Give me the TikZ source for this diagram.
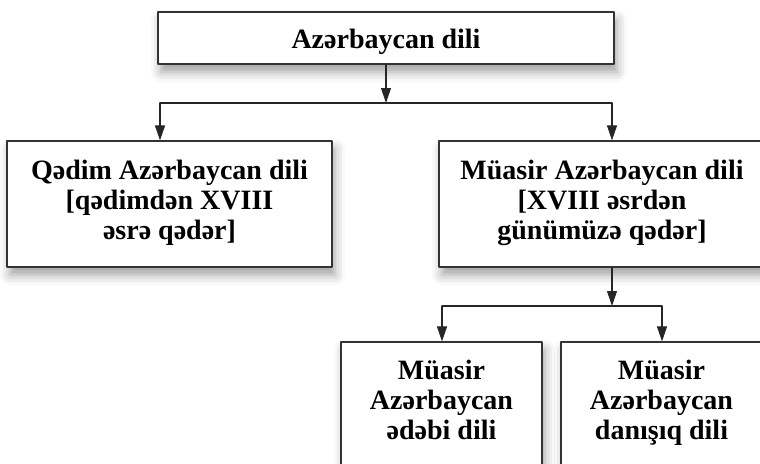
\documentclass[tikz,border=0pt]{standalone}
\usepackage{fontspec}
\setmainfont{Liberation Serif}
\usetikzlibrary{arrows.meta,shadows.blur}

\begin{document}
\begin{tikzpicture}[line cap=round,line join=round,>={Triangle[length=15pt,width=10pt]},x=1pt,y=1pt,
		box/.style={draw=black!80,line width=1.2pt,fill=white,align=center,inner sep=0pt,font=\fontsize{28}{30}\selectfont\bfseries,
			execute at begin node=\rule{0pt}{29pt},execute at end node=\strut,
			blur shadow={shadow xshift=3pt,shadow yshift=-8pt,shadow blur radius=10pt,shadow opacity=38}},
		link/.style={line width=1.1pt,color=black!85}]
		\clip(0,0) rectangle (760,-463);
		% boxes
		\node[box,minimum width=456,minimum height=52] (dil) at (386,-38) {Azərbaycan dili};
		\node[box,minimum width=325,minimum height=126] (qedim) at (169.5,-204) {Qədim Azərbaycan dili\\{}[qədimdən XVIII\\əsrə qədər]};
		\node[box,minimum width=326,minimum height=126] (muasir) at (602,-204) {Müasir Azərbaycan dili\\{}[XVIII əsrdən\\günümüzə qədər]};
		\node[box,minimum width=201,minimum height=124] (edebi) at (441.5,-404) {Müasir\\Azərbaycan\\ədəbi dili};
		\node[box,minimum width=201,minimum height=124] (danisiq) at (661.5,-404) {Müasir\\Azərbaycan\\danışıq dili};
		% connectors
		\coordinate (j1) at (386,-103);
		\coordinate (l1) at (160,-103);
		\coordinate (r1) at (612,-103);
		\draw[link,->] (dil) -- (j1);
		\draw[link] (l1) -- (r1);
		\draw[link,->] (l1) -- (l1 |- qedim.north);
		\draw[link,->] (r1) -- (r1 |- muasir.north);
		\coordinate (j2) at (612,-306);
		\coordinate (l2) at (442,-306);
		\coordinate (r2) at (662,-306);
		\draw[link,->] (j2 |- muasir.south) -- (j2);
		\draw[link] (l2) -- (r2);
		\draw[link,->] (l2) -- (l2 |- edebi.north);
		\draw[link,->] (r2) -- (r2 |- danisiq.north);
	\end{tikzpicture}
\end{document}
